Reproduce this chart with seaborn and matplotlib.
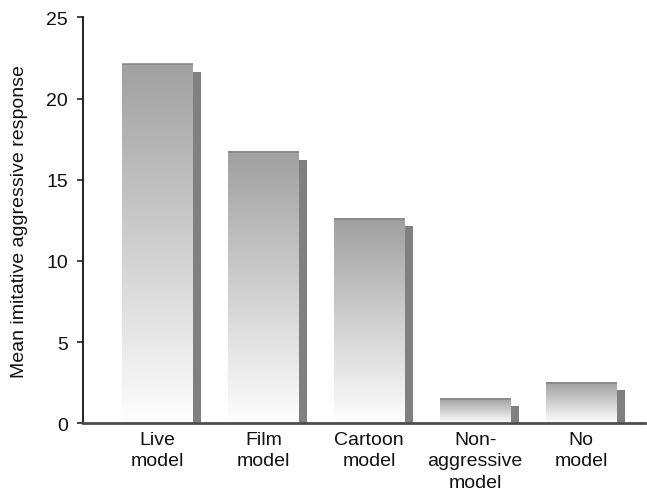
import matplotlib
matplotlib.use("Agg")
import matplotlib.pyplot as plt
import matplotlib.transforms as mtransforms
from matplotlib.colors import LinearSegmentedColormap
import numpy as np
import pandas as pd
import seaborn as sns

# Mean imitative aggression by modelling condition
conditions = ["Live\nmodel", "Film\nmodel", "Cartoon\nmodel",
              "Non-\naggressive\nmodel", "No\nmodel"]
mean_response = [22.1, 16.7, 12.6, 1.5, 2.5]
y_ticks = [0, 5, 10, 15, 20, 25]
y_label = "Mean imitative aggressive response"

sns.set_style("ticks")
plt.rcParams["font.family"] = ["Liberation Sans", "DejaVu Sans"]

df = pd.DataFrame({"condition": conditions, "response": mean_response})

W, H = 647, 502
fig = plt.figure(figsize=(W / 100, H / 100), dpi=100)
ax = fig.add_axes([83 / W, (H - 424.3) / H, 562 / W, 406 / H])

# drop-shadow bars, shifted right and down by a few pixels
sns.barplot(data=df, x="condition", y="response", color="#808080",
            width=0.67, saturation=1, errorbar=None, ax=ax, zorder=1)
shadow_patches = list(ax.patches)
offset = mtransforms.ScaledTranslation(8 / 100, -7.5 / 100, fig.dpi_scale_trans)
for p in shadow_patches:
    p.set_transform(ax.transData + offset)
    p.set_edgecolor("none")
    p.set_facecolor("#808080")

# main bars, filled with a vertical grey-to-white gradient
sns.barplot(data=df, x="condition", y="response", color="white",
            width=0.67, saturation=1, errorbar=None, ax=ax, zorder=2)
main_patches = ax.patches[len(shadow_patches):]
grad = np.linspace(0, 1, 256).reshape(-1, 1)
cmap = LinearSegmentedColormap.from_list("bar", ["#fefefe", "#a0a0a0"])
for p in main_patches:
    x0, w, h = p.get_x(), p.get_width(), p.get_height()
    p.set_facecolor("none")
    p.set_edgecolor("none")
    ax.imshow(grad, extent=[x0, x0 + w, 0, h], origin="lower", aspect="auto",
              cmap=cmap, vmin=0, vmax=1, zorder=2, interpolation="bilinear")
    ax.plot([x0, x0 + w], [h, h], color="#858585", lw=1.1, zorder=3,
            solid_capstyle="butt")

ax.set_xlim(-0.703, 4.604)
ax.set_ylim(0, 25)
ax.set_yticks(y_ticks)
ax.set_xlabel("")
ax.set_ylabel(y_label, fontsize=14, color="#111111")
ax.yaxis.set_label_coords(-0.097, 0.5)

for s in ("top", "right"):
    ax.spines[s].set_visible(False)
ax.spines["left"].set_color("#111111")
ax.spines["left"].set_linewidth(1.3)
ax.spines["bottom"].set_color("#4d4d4d")
ax.spines["bottom"].set_linewidth(2)

ax.tick_params(axis="y", length=4.3, width=1.1, pad=6.5, labelsize=14,
               colors="#111111")
ax.tick_params(axis="x", length=0, pad=5.5, labelsize=14, labelcolor="#111111")
for lab in ax.get_xticklabels():
    lab.set_linespacing(1.35)

fig.savefig("out.png", dpi=100)
